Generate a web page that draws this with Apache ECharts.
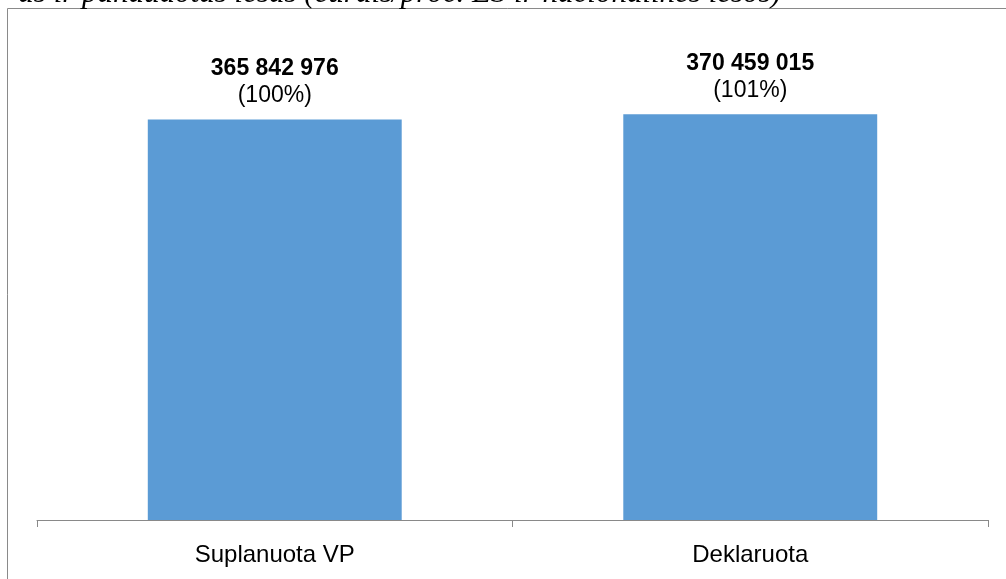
<!DOCTYPE html>
<html>
<head>
<meta charset="utf-8">
<script src="https://cdn.jsdelivr.net/npm/echarts@6/dist/echarts.min.js"></script>
<style>
  html, body { margin: 0; padding: 0; background: #fff; }
  #chart { width: 1006px; height: 579px; }
</style>
</head>
<body>
<div id="chart"></div>
<script>
var categories = ['Suplanuota VP', 'Deklaruota']
var values = [365842976, 370459015]
var percents = ['100%', '101%']
var captionText = 'as ir panaudotas lėšas (eurais/proc. ES ir nacionalinės lėšos)'

var chart = echarts.init(document.getElementById('chart'))

// tarpai tarp tūkstančių, kaip originale
function fmt(v) {
  return String(v).replace(/\B(?=(\d{3})+(?!\d))/g, ' ')
}

chart.setOption({
  animation: false,
  graphic: [
    {
      type: 'rect',
      shape: { x: 7.5, y: 8.5, width: 1200, height: 800 },
      style: { fill: 'none', stroke: '#8a8a8a', lineWidth: 1 },
      silent: true
    },
    {
      type: 'text',
      x: 781,
      y: 9,
      style: {
        text: captionText,
        align: 'right',
        verticalAlign: 'bottom',
        font: 'italic 31px "Liberation Serif", serif',
        fill: '#000'
      },
      silent: true
    }
  ],
  grid: {
    left: 37,
    right: 18,
    top: 82,
    bottom: 59
  },
  xAxis: {
    type: 'category',
    data: categories,
    axisLine: { lineStyle: { color: '#898989', width: 1 } },
    axisTick: { show: true, length: 7, alignWithLabel: false, lineStyle: { color: '#898989' } },
    axisLabel: {
      color: '#000',
      fontSize: 24,
      fontFamily: 'Liberation Sans',
      margin: 23
    }
  },
  yAxis: {
    type: 'value',
    min: 0,
    max: 400000000,
    show: false,
    splitLine: { show: false }
  },
  series: [{
    type: 'bar',
    data: values,
    barWidth: '53.4%',
    itemStyle: { color: '#5b9bd5' },
    label: {
      show: true,
      position: 'top',
      distance: 10,
      formatter: function (p) {
        return '{b|' + fmt(p.value) + '}\n{n|(' + percents[p.dataIndex] + ')}'
      },
      rich: {
        b: { fontSize: 23, fontWeight: 'bold', color: '#000', fontFamily: 'Liberation Sans', lineHeight: 27 },
        n: { fontSize: 23, color: '#000', fontFamily: 'Liberation Sans', lineHeight: 27 }
      }
    }
  }]
})
</script>
</body>
</html>
